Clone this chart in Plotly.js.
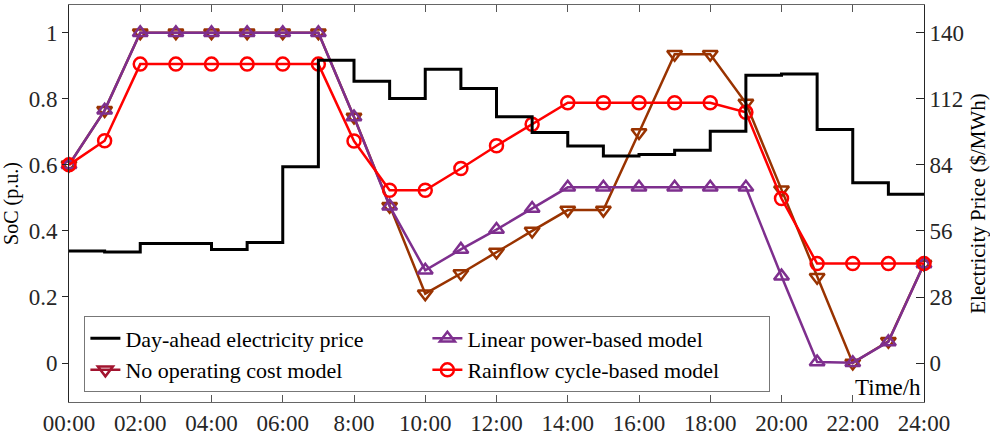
<!DOCTYPE html>
<html>
<head>
<meta charset="utf-8">
<script src="https://cdn.plot.ly/plotly-3.0.1.min.js"></script>
<style>html,body{margin:0;padding:0;background:#fff;}#chart{width:990px;height:441px;}</style>
</head>
<body>
<div id="chart"></div>
<script>
const hours = [0,1,2,3,4,5,6,7,8,9,10,11,12,13,14,15,16,17,18,19,20,21,22,23,24];
const tickVals = [0,2,4,6,8,10,12,14,16,18,20,22,24];
const tickLabels = ['00:00','02:00','04:00','06:00','8:00','10:00','12:00','14:00','16:00','18:00','20:00','22:00','24:00'];
// hourly day-ahead price ($/MWh), last value repeated to close the final step
const price = [47.5,47.1,50.7,50.7,48.1,51.1,83.2,128.4,119.5,112.2,124.6,116.4,104.4,97.7,92.0,87.8,88.4,90.2,98.3,122.0,122.5,99.0,76.4,71.6,71.6];
const socNoCost = [0.6,0.765,1,1,1,1,1,1,0.745,0.475,0.21,0.271,0.336,0.4,0.463,0.463,0.698,0.935,0.935,0.787,0.525,0.26,0,0.066,0.3];
const socLinear = [0.6,0.765,1,1,1,1,1,1,0.745,0.475,0.281,0.344,0.404,0.468,0.532,0.532,0.532,0.532,0.532,0.532,0.263,0.003,0.001,0.064,0.3];
const socRainflow = [0.6,0.673,0.905,0.905,0.905,0.905,0.905,0.905,0.672,0.523,0.523,0.589,0.658,0.723,0.788,0.788,0.788,0.788,0.788,0.759,0.498,0.301,0.301,0.301,0.301];

const serif = '"Liberation Serif", "Times New Roman", serif';
const traces = [
  {x: hours, y: price, yaxis: 'y2', type: 'scatter', mode: 'lines', line: {shape: 'hv', color: '#000', width: 3},
   name: 'Day-ahead electricity price', legendrank: 1},
  {x: hours, y: socNoCost, type: 'scatter', mode: 'lines+markers', cliponaxis: false,
   line: {color: '#993300', width: 2.5}, marker: {symbol: 'triangle-down-open', size: 13, color: '#993300', line: {width: 2.5, color: '#993300'}},
   name: 'No operating cost model', showlegend: false},
  {x: [null], y: [null], type: 'scatter', mode: 'lines+markers',
   line: {color: '#A2142F', width: 2.5}, marker: {symbol: 'triangle-down-open', size: 13, color: '#A2142F', line: {width: 2.5, color: '#A2142F'}},
   name: 'No operating cost model', legendrank: 3},
  {x: hours, y: socLinear, type: 'scatter', mode: 'lines+markers', cliponaxis: false,
   line: {color: '#7E2F8E', width: 2.5}, marker: {symbol: 'triangle-up-open', size: 13, color: '#7E2F8E', line: {width: 2.5, color: '#7E2F8E'}},
   name: 'Linear power-based model', legendrank: 2},
  {x: hours, y: socRainflow, type: 'scatter', mode: 'lines+markers', cliponaxis: false,
   line: {color: '#FF0000', width: 2.5}, marker: {symbol: 'circle-open', size: 13, color: '#FF0000', line: {width: 2.5, color: '#FF0000'}},
   name: 'Rainflow cycle-based model', legendrank: 4}
];

const layout = {
  width: 990, height: 441,
  margin: {l: 69, r: 66, t: 5, b: 39},
  paper_bgcolor: '#fff', plot_bgcolor: '#fff',
  font: {family: serif, size: 20, color: '#262626'},
  showlegend: true,
  xaxis: {
    range: [0, 24], tickvals: tickVals, ticktext: tickLabels,
    ticks: 'inside', ticklen: 7, tickcolor: '#555', mirror: 'ticks',
    showline: true, linecolor: '#666', linewidth: 1, showgrid: false, zeroline: false,
    tickfont: {family: serif, size: 23, color: '#262626'}
  },
  yaxis: {
    range: [-0.118, 1.084], tickvals: [0, 0.2, 0.4, 0.6, 0.8, 1], ticktext: ['0','0.2','0.4','0.6','0.8','1'],
    ticks: 'outside', ticklen: 6, tickcolor: '#262626',
    showline: true, linecolor: '#262626', linewidth: 1, showgrid: false, zeroline: false,
    tickfont: {family: serif, size: 23, color: '#262626'},
    title: {text: 'SoC (p.u.)', font: {family: serif, size: 20, color: '#000'}, standoff: 10}
  },
  yaxis2: {
    overlaying: 'y', side: 'right', range: [-16.5, 151.8], tickvals: [0, 28, 56, 84, 112, 140],
    ticks: 'inside', ticklen: 8, tickcolor: '#262626',
    showline: true, linecolor: '#262626', linewidth: 1, showgrid: false, zeroline: false,
    tickfont: {family: serif, size: 23, color: '#262626'},
    title: {text: 'Electricity Price ($/MWh)', font: {family: serif, size: 21, color: '#000'}, standoff: 8}
  },
  legend: {
    orientation: 'h', x: 0.018, y: 0.024, xanchor: 'left', yanchor: 'bottom',
    entrywidth: 297, entrywidthmode: 'pixels',
    bgcolor: '#fff', bordercolor: '#777', borderwidth: 1,
    font: {family: serif, size: 22, color: '#000'}, tracegroupgap: 0
  },
  annotations: [{
    text: 'Time/h', xref: 'paper', yref: 'paper', x: 1, y: 0, xanchor: 'right', yanchor: 'bottom',
    showarrow: false, font: {family: serif, size: 23, color: '#000'}, bgcolor: '#fff', xshift: -1, yshift: 0
  }]
};

Plotly.newPlot('chart', traces, layout, {displayModeBar: false, staticPlot: true});
</script>
</body>
</html>
